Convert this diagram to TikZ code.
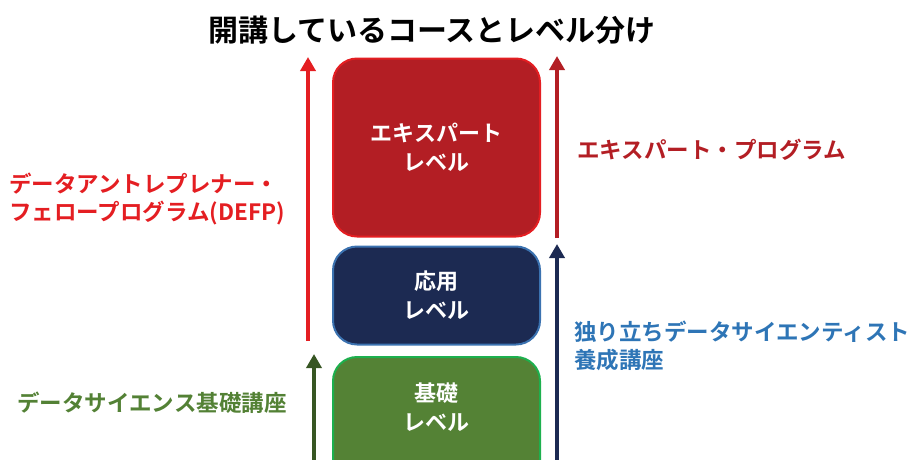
\documentclass[tikz,border=0pt]{standalone}
\usepackage{fontspec}
\setmainfont{Noto Sans CJK JP}[BoldFont={Noto Sans CJK JP Bold}]
\usetikzlibrary{arrows.meta}
\definecolor{boxred}{HTML}{B31E24}
\definecolor{brightred}{HTML}{E41E22}
\definecolor{navyfill}{HTML}{1C2A52}
\definecolor{navyborder}{HTML}{3B72B0}
\definecolor{greenfill}{HTML}{548235}
\definecolor{greenborder}{HTML}{1DB04E}
\definecolor{darkgreen}{HTML}{375623}
\definecolor{labelblue}{HTML}{2E75B6}
\definecolor{labelgreen}{HTML}{538135}
\tikzset{
  lvbox/.style={rounded corners=24pt, line width=2pt, minimum width=207pt, inner sep=0pt,
    text=white, font=\fontsize{22}{29}\selectfont\bfseries, align=center},
  lbl/.style={font=\fontsize{22.5}{28}\selectfont\bfseries, align=left, inner sep=0pt},
  uparrow/.style={line width=4pt, -{Triangle[width=15pt,length=14pt]}}
}
\begin{document}
\begin{tikzpicture}[x=1pt,y=-1pt]
\useasboundingbox (0,0) rectangle (910,459);
\clip (0,0) rectangle (910,459);
\node[font=\fontsize{30}{34}\selectfont\bfseries, inner sep=0pt] (title) at (432,30) {開講しているコースとレベル分け};
\node[lvbox, fill=boxred, draw=brightred, minimum height=178pt] (expert) at (436.5,147.5) {エキスパート\\レベル};
\node[lvbox, fill=navyfill, draw=navyborder, minimum height=98pt] (applied) at (436.5,295.5) {応用\\レベル};
\node[lvbox, fill=greenfill, draw=greenborder, minimum height=130pt] (basic) at (436.5,422) {};
\node[text=white, font=\fontsize{22}{29}\selectfont\bfseries, align=center, inner sep=0pt] (basictext) at (436.5,407) {基礎\\レベル};
% arrows
\coordinate (lr0) at (308,341);
\coordinate (lr1) at (308,57);
\coordinate (lg0) at (314,470);
\coordinate (lg1) at (314,354);
\coordinate (rr0) at (557,238);
\coordinate (rr1) at (557,56);
\coordinate (rn0) at (557,470);
\coordinate (rn1) at (557,244);
\draw[uparrow, brightred] (lr0) -- (lr1);
\draw[uparrow, darkgreen] (lg0) -- (lg1);
\draw[uparrow, boxred] (rr0) -- (rr1);
\draw[uparrow, navyfill] (rn0) -- (rn1);
% labels
\node[lbl, text=brightred, anchor=west] (defp) at (9,199) {データアントレプレナー・\\フェロープログラム(DEFP)};
\node[lbl, text=boxred, anchor=west] (expprog) at (577,150) {エキスパート・プログラム};
\node[lbl, text=labelblue, anchor=west] (indep) at (574,346) {独り立ちデータサイエンティスト\\養成講座};
\node[lbl, text=labelgreen, anchor=west] (dsbasic) at (17,403) {データサイエンス基礎講座};
\end{tikzpicture}
\end{document}
